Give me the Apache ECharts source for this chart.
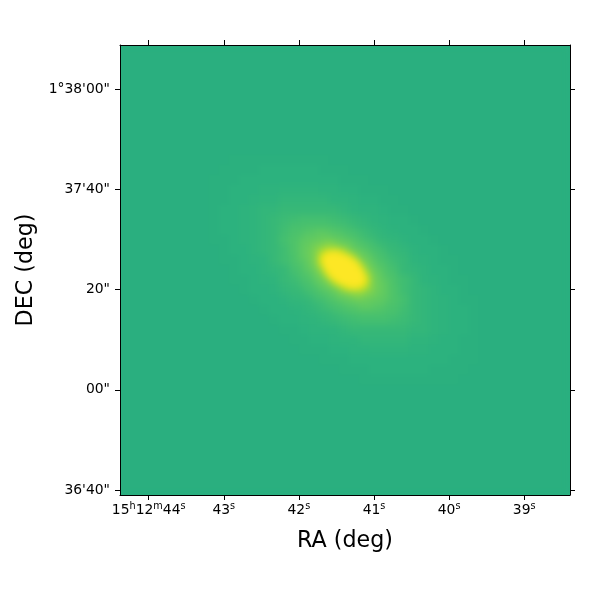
<!DOCTYPE html>
<html><head><meta charset="utf-8">
<style>
html,body{margin:0;padding:0;background:#fff;width:600px;height:600px;overflow:hidden}
#plot{position:absolute;left:120px;top:45px;width:450px;height:450px;overflow:hidden;background:#2aaf7f}
#img{position:absolute;left:-1px;top:0;width:452px;height:450px;filter:blur(3px)}
#axes{position:absolute;left:0;top:0;width:600px;height:600px}
</style>
<script src="https://cdn.jsdelivr.net/npm/echarts@6/dist/echarts.min.js"></script>
</head><body>
<div id="plot"><div id="img"></div></div>
<div id="axes"></div>
<script>
// Colour-scale position (percent of the viridis range).
const skyLevel = 63;                                   // flat sky outside the galaxy
const firstCol = 9, firstRow = 9, gridCells = 45;      // outer glow, coarse cells
const coreFirstCol = 35, coreFirstRow = 36, coreCells = 90; // bright core, fine cells
const raTicks = [44, 43, 42, 41, 40, 39];
const decTicks = [5880, 5860, 5840, 5820, 5800];
const decLabels = ['1°38\'00"', '37\'40"', '20"', '00"', '36\'40"'];
const viridisTop = ['#22a884','#2fb47c','#44bf70','#5ec962','#7ad151','#9bd93c','#bddf26','#dfe318','#fde725'];
const glow = [
[63,63,63,63,63,63,63,63,63,63,63,63,63,63,63,63,63,63,63,63,63,63,63,63,63,63,63],
[63,63,63,63,63,63,63,63,63,63,63,63,63,63,63,63,63,63,63,63,63,63,63,63,63,63,63],
[63,63,63.5,63.5,63.5,63.5,63.5,63.5,63.5,63.5,63.5,63.5,63,63,63,63,63,63,63,63,63,63,63,63,63,63,63],
[63,63.5,63.5,63.5,63.5,64,64,64,64,64,64,63.5,63.5,63.5,63,63,63,63,63,63,63,63,63,63,63,63,63],
[63.5,63.5,63.5,64,64,64,64,64,64,64,64,64,64,63.5,63.5,63.5,63,63,63,63,63,63,63,63,63,63,63],
[63.5,63.5,64,64,64,64.5,64.5,65,65,65,65,64.5,64.5,64,64,63.5,63.5,63.5,63,63,63,63,63,63,63,63,63],
[63.5,63.5,64,64,64.5,65,65,66,66,66,66,66,65,65,64.5,64,64,63.5,63.5,63,63,63,63,63,63,63,63],
[63.5,64,64,64.5,65,66,66,67,67,67,67,67,67,66,65,64.5,64.5,64,63.5,63.5,63,63,63,63,63,63,63],
[63.5,64,64,64.5,65,66,67,68,69,70,70,70,69,68,67,66,65,64.5,64,64,63.5,63,63,63,63,63,63],
[63.5,64,64,64.5,65,66,67,69,71,72,75,75,72,71,69,68,66,65,64.5,64,64,63.5,63,63,63,63,63],
[63.5,63.5,64,64.5,65,66,67,70,72,75,80,80,80,76,73,71,68,67,66,64.5,64,64,63.5,63,63,63,63],
[63,63.5,64,64,65,66,67,69,72,76,89,98,98,93,85,75,71,68,67,66,64.5,64,64,63.5,63,63,63],
[63,63.5,63.5,64,64.5,65,67,69,71,76,85,100,100,100,100,85,75,71,68,67,65,64.5,64,63.5,63.5,63,63],
[63,63,63.5,64,64,65,66,67,70,75,80,98,100,100,100,98,80,75,70,67,66,65,64,64,63.5,63,63],
[63,63,63.5,63.5,64,64.5,65,67,68,71,75,85,100,100,100,100,85,76,71,69,67,65,64.5,64,63.5,63.5,63],
[63,63,63,63.5,64,64,64.5,66,67,68,71,75,85,93,98,98,89,76,72,69,67,66,65,64,64,63.5,63],
[63,63,63,63,63.5,64,64,64.5,66,67,68,71,73,76,80,80,80,75,72,70,67,66,65,64.5,64,63.5,63.5],
[63,63,63,63,63,63.5,64,64,64.5,65,66,68,69,71,72,75,75,72,71,69,67,66,65,64.5,64,64,63.5],
[63,63,63,63,63,63,63.5,64,64,64.5,65,66,67,68,69,70,70,70,69,68,67,66,65,64.5,64,64,63.5],
[63,63,63,63,63,63,63,63.5,63.5,64,64.5,64.5,65,66,67,67,67,67,67,67,66,66,65,64.5,64,64,63.5],
[63,63,63,63,63,63,63,63,63.5,63.5,64,64,64.5,65,65,66,66,66,66,66,65,65,64.5,64,64,63.5,63.5],
[63,63,63,63,63,63,63,63,63,63.5,63.5,63.5,64,64,64.5,64.5,65,65,65,65,64.5,64.5,64,64,64,63.5,63.5],
[63,63,63,63,63,63,63,63,63,63,63,63.5,63.5,63.5,64,64,64,64,64,64,64,64,64,64,63.5,63.5,63.5],
[63,63,63,63,63,63,63,63,63,63,63,63,63,63.5,63.5,63.5,64,64,64,64,64,64,63.5,63.5,63.5,63.5,63],
[63,63,63,63,63,63,63,63,63,63,63,63,63,63,63,63.5,63.5,63.5,63.5,63.5,63.5,63.5,63.5,63.5,63.5,63,63],
[63,63,63,63,63,63,63,63,63,63,63,63,63,63,63,63,63,63,63,63,63,63,63,63,63,63,63],
[63,63,63,63,63,63,63,63,63,63,63,63,63,63,63,63,63,63,63,63,63,63,63,63,63,63,63]
];
const core = [
[71,71,72,72,72,72,72,72,71,71,70,69,68,67,67,66,66,65,65,64],
[71,72,73,73,75,75,75,73,73,72,71,71,70,69,68,67,66,66,65,65],
[72,73,75,75,75,76,76,76,75,75,73,72,71,70,68,68,67,66,66,65],
[72,75,75,76,78,78,80,80,78,76,76,75,73,72,71,70,68,67,67,66],
[72,75,76,78,80,82,85,85,85,82,80,76,75,73,72,71,70,69,67,67],
[72,75,76,78,82,88,95,98,98,95,88,82,78,76,75,72,71,70,69,67],
[72,75,76,78,82,95,100,100,100,100,100,95,85,78,76,75,72,71,70,68],
[72,73,75,78,82,95,100,100,100,100,100,100,98,85,78,76,73,72,71,69],
[71,72,75,76,80,88,100,100,100,100,100,100,100,95,82,78,75,73,72,70],
[70,72,73,75,78,82,95,100,100,100,100,100,100,100,88,80,76,75,72,71],
[69,71,72,73,76,78,85,98,100,100,100,100,100,100,95,82,78,75,73,72],
[68,70,71,72,75,76,78,85,95,100,100,100,100,100,95,82,78,76,75,72],
[67,69,70,71,72,75,76,78,82,88,95,98,98,95,88,82,78,76,75,72],
[67,67,69,70,71,72,73,75,76,80,82,85,85,85,82,80,78,76,75,72],
[66,67,67,68,70,71,72,73,75,76,76,78,80,80,78,78,76,75,75,72],
[65,66,66,67,68,68,70,71,72,73,75,75,76,76,76,75,75,75,73,72],
[65,65,66,66,67,68,69,70,71,71,72,73,73,75,75,75,73,73,72,71],
[64,65,65,66,66,67,67,68,69,70,71,71,72,72,72,72,72,72,71,71]
];
const FONT = '"DejaVu Sans"';
const coarseIdx = Array.from({length: gridCells}, (_, i) => i);
const fineIdx = Array.from({length: coreCells}, (_, i) => i);
const glowCells = [], coreCellsData = [];
coarseIdx.forEach(r => coarseIdx.forEach(c => {
  const row = glow[r - firstRow];
  const inGlow = row && row[c - firstCol] !== undefined;
  glowCells.push([c, r, inGlow ? row[c - firstCol] : skyLevel]);
}));
core.forEach((row, r) => row.forEach((v, c) => coreCellsData.push([c + coreFirstCol, r + coreFirstRow, v])));

echarts.init(document.getElementById('img'), null, {width: 450, height: 450}).setOption({
  animation: false,
  grid: {left: 0, right: 0, top: 0, bottom: 0},
  xAxis: [{type: 'category', data: coarseIdx, show: false}, {type: 'category', data: fineIdx, show: false}],
  yAxis: [{type: 'category', data: coarseIdx, inverse: true, show: false}, {type: 'category', data: fineIdx, inverse: true, show: false}],
  visualMap: {show: false, min: 60, max: 100, dimension: 2, inRange: {color: viridisTop}},
  series: [
    {type: 'heatmap', data: glowCells, progressive: 0, itemStyle: {borderWidth: 0}},
    {type: 'heatmap', data: coreCellsData, xAxisIndex: 1, yAxisIndex: 1, progressive: 0, itemStyle: {borderWidth: 0}}
  ]
});

const lineStyle = {color: '#000', width: 1};
function xAxis(pos, labels) {
  return {
    type: 'value', position: pos, inverse: true, min: 38.39, max: 44.382, splitLine: {show: false},
    axisLine: {show: true, onZero: false, lineStyle},
    axisTick: {show: true, length: 5, lineStyle, customValues: raTicks},
    axisLabel: labels ? {
      show: true, margin: 7, color: '#000', fontFamily: FONT, fontSize: 13.9, customValues: raTicks,
      formatter: v => (v === 44 ? '{n|15}{s|h}{n|12}{s|m}{n|44}{s|s}' : '{n|' + v + '}{s|s}'),
      rich: {n: {fontFamily: FONT, fontSize: 13.9, color: '#000', lineHeight: 16},
             s: {fontFamily: FONT, fontSize: 9.7, color: '#000', lineHeight: 16, padding: [0, 0, 7, 0]}}
    } : {show: false},
    name: labels ? 'RA (deg)' : '', nameLocation: 'middle', nameGap: 35,
    nameTextStyle: {fontFamily: FONT, fontSize: 22.2, color: '#000'}
  };
}
function yAxis(pos, labels) {
  return {
    type: 'value', position: pos, min: 5799.02, max: 5888.82, splitLine: {show: false},
    axisLine: {show: true, onZero: false, lineStyle},
    axisTick: {show: true, length: 5, lineStyle, customValues: decTicks},
    axisLabel: labels ? {
      show: true, margin: 10, color: '#000', fontFamily: FONT, fontSize: 13.9, customValues: decTicks,
      formatter: v => decLabels[decTicks.indexOf(v)]
    } : {show: false},
    name: labels ? 'DEC (deg)' : '', nameLocation: 'middle', nameGap: 83, nameRotate: 90,
    nameTextStyle: {fontFamily: FONT, fontSize: 22.2, color: '#000'}
  };
}
echarts.init(document.getElementById('axes')).setOption({
  animation: false,
  backgroundColor: 'transparent',
  grid: {left: 120, top: 45, width: 450, height: 450, containLabel: false},
  xAxis: [xAxis('bottom', true), xAxis('top', false)],
  yAxis: [yAxis('left', true), yAxis('right', false)]
});
</script>
</body></html>
